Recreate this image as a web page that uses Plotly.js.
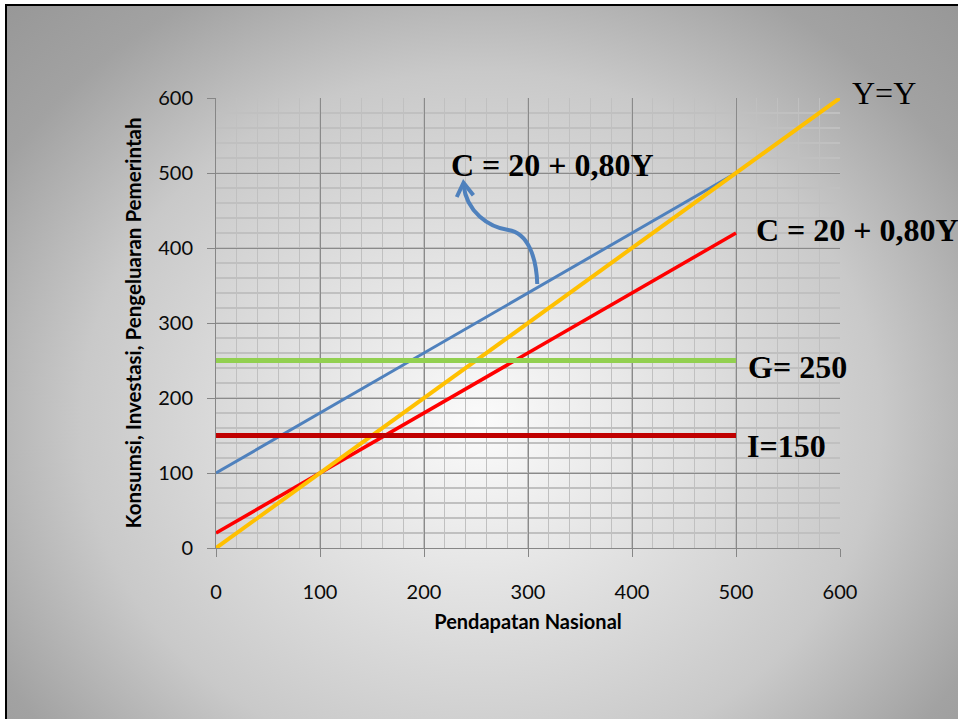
<!DOCTYPE html>
<html>
<head>
<meta charset="utf-8">
<script src="https://cdn.plot.ly/plotly-3.0.1.min.js"></script>
<style>
  html, body { margin:0; padding:0; width:958px; height:719px; overflow:hidden; background:#ffffff; }
  #bg { position:absolute; left:5px; top:4px; width:1000px; height:760px;
        border-left:2.5px solid #000; border-top:2.5px solid #000;
        background: radial-gradient(ellipse 640px 560px at 474px 416px, #fbfbfb 0px, #e4e4e4 180px, #c9c9c9 400px, #a2a2a2 560px, #959595 700px); }
  #chart { position:absolute; left:0; top:0; width:958px; height:719px; }
</style>
</head>
<body>
<div id="bg"></div>
<div id="chart"></div>
<script>
// ---- data ----
const incomeX = [0, 500];            // Pendapatan Nasional for C, I, G lines
const aggregateC = [100, 500];       // blue line
const consumptionC = [20, 420];      // red line
const yyX = [0, 600];                // 45-degree line Y=Y
const yyY = [0, 600];
const govG = [250, 250];             // G = 250
const investI = [150, 150];          // I = 150
const tickVals = [0, 100, 200, 300, 400, 500, 600];
const tickText = ['0', '100', '200', '300', '400', '500', '600'];
const labelTexts = ['Y=Y', 'C = 20 + 0,80Y', 'C = 20 + 0,80Y', 'G= 250', 'I=150'];
const labelX = [610, 224, 517, 510, 509];   // in axis units (may lie outside the 0-600 range)
const labelY = [607, 511, 424, 241, 136];
const labelBold = [false, true, true, true, true];
// curved arrow (decoration) control points in data units
const arrowCurve = [[308.9, 352], [308, 388], [300, 420], [281, 424], [262, 428], [241, 448], [238, 484]];
const arrowHead = [[231.5, 468], [238, 487], [247.5, 470.5]];

const traces = [
  {x: incomeX, y: aggregateC, mode: 'lines', line: {color: '#4F81BD', width: 3}},
  {x: incomeX, y: consumptionC, mode: 'lines', line: {color: '#FF0000', width: 3.5}},
  {x: yyX, y: yyY, mode: 'lines', line: {color: '#FFC000', width: 4}},
  {x: incomeX, y: govG, mode: 'lines', line: {color: '#92D050', width: 5}},
  {x: incomeX, y: investI, mode: 'lines', line: {color: '#C00000', width: 5}}
];

const p = arrowCurve;
const curvePath = 'M ' + p[0].join(',') + ' C ' + p[1].join(',') + ' ' + p[2].join(',') + ' ' + p[3].join(',') +
                  ' C ' + p[4].join(',') + ' ' + p[5].join(',') + ' ' + p[6].join(',');
const headPath = 'M ' + arrowHead[0].join(',') + ' L ' + arrowHead[1].join(',') + ' L ' + arrowHead[2].join(',');

const axisMax = 600;
const annotations = labelTexts.map((t, i) => ({
  x: labelX[i] / axisMax, y: labelY[i] / axisMax, xref: 'paper', yref: 'paper', text: t, showarrow: false,
  xanchor: 'left', yanchor: 'middle',
  font: {family: 'Liberation Serif, Times New Roman, serif', size: 32, color: '#000', weight: labelBold[i] ? 'bold' : 'normal'}
}));

const axisCommon = {
  range: [0, 600], tickvals: tickVals, ticktext: tickText,
  showgrid: true, gridcolor: '#8a8a8a', gridwidth: 1,
  showline: true, linecolor: '#868686', linewidth: 1,
  ticks: 'outside', ticklen: 8, tickcolor: '#868686', tickwidth: 1,
  zeroline: false, fixedrange: true,
  tickfont: {family: 'Lato, Open Sans, sans-serif', size: 20, color: '#0a0a0a'},
  minor: {dtick: 20, tick0: 0, showgrid: true, gridcolor: '#c0c0c0', gridwidth: 1.3, ticks: ''}
};

const layout = {
  width: 958, height: 719,
  margin: {l: 216, r: 118, t: 98, b: 171},
  paper_bgcolor: 'rgba(0,0,0,0)', plot_bgcolor: 'rgba(0,0,0,0)',
  showlegend: false,
  xaxis: Object.assign({}, axisCommon, {
    ticklabelstandoff: 18,
    title: {text: 'Pendapatan Nasional', standoff: 12,
            font: {family: 'Lato, Open Sans, sans-serif', size: 20, color: '#000', weight: 'bold'}}
  }),
  yaxis: Object.assign({}, axisCommon, {
    ticklabelstandoff: 10,
    title: {text: 'Konsumsi, Investasi, Pengeluaran Pemerintah', standoff: 11,
            font: {family: 'Lato, Open Sans, sans-serif', size: 20.5, color: '#000', weight: 'bold'}}
  }),
  annotations: annotations,
  shapes: [
    {type: 'path', xref: 'x', yref: 'y', path: curvePath, line: {color: '#4F81BD', width: 4}, layer: 'above'},
    {type: 'path', xref: 'x', yref: 'y', path: headPath, line: {color: '#4F81BD', width: 4}, layer: 'above'}
  ]
};

Plotly.newPlot('chart', traces, layout, {displayModeBar: false, staticPlot: true});
</script>
</body>
</html>
